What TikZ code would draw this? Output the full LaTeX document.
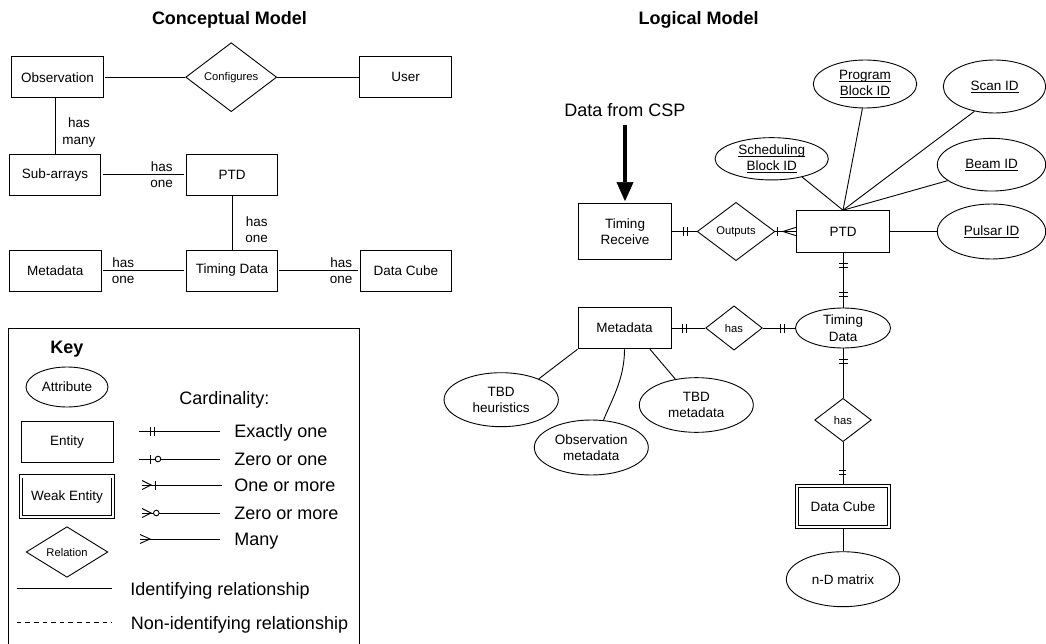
\documentclass[tikz,border=0pt]{standalone}
\usepackage{fontspec}
\setmainfont{Liberation Sans}
\usetikzlibrary{shapes.geometric,arrows.meta,decorations.markings,calc}

% font sizes (1pt = 1px of the final picture)
\newcommand{\erN}{\fontsize{13.5}{16.5}\selectfont}
\newcommand{\erS}{\fontsize{11.2}{13}\selectfont}
\newcommand{\erL}{\fontsize{18}{21}\selectfont}
\newcommand{\erT}{\fontsize{18}{21}\selectfont\bfseries}
% underlined key attribute
\newcommand{\keyattr}[1]{\leavevmode\setbox0=\hbox{#1}\rlap{\rule[-2.3pt]{\wd0}{0.8pt}}\box0}

\begin{document}
\begin{tikzpicture}[x=1pt,y=-1pt,line width=0.9pt,
  every node/.style={inner sep=0pt, align=center, font=\erN},
  entity/.style={draw, rectangle, minimum width=91.5pt, minimum height=41pt},
  weak/.style={draw, rectangle, double, double distance=2.4pt, minimum width=91.8pt, minimum height=40.9pt},
  relation/.style={draw, diamond, font=\erS},
  attr/.style={draw, ellipse},
  legend/.style={font=\erL, anchor=base west},
  heading/.style={font=\erT, anchor=base},
  tickmark/.style={postaction={decorate,decoration={markings,
      mark=at position #1 with {\draw (0pt,-4.5pt) -- (0pt,4.5pt);}}}},
  ringmark/.style={postaction={decorate,decoration={markings,
      mark=at position #1 with {\draw[fill=white] (0pt,0pt) circle[radius=2.8pt];}}}},
  crowstart/.style={postaction={decorate,decoration={markings,
      mark=at position #1 with {\draw (-#1,4.5pt) -- (0pt,0pt) -- (-#1,-4.5pt);}}}},
  crowend/.style={postaction={decorate,decoration={markings,
      mark=at position -#1 with {\draw (#1,4.3pt) -- (0pt,0pt) -- (#1,-4.3pt);}}}},
  mandone start/.style={tickmark=11pt, tickmark=15pt},
  mandone end/.style={tickmark=-11pt, tickmark=-15pt},
  mandmany end/.style={crowend=13.5pt, tickmark=-18.5pt},
  bigarrow/.style={line width=4.5pt, -{Triangle[length=19pt,width=17pt,line width=0.5pt]}, shorten >=2pt},
]
\useasboundingbox (0,0) rectangle (1046,644);

% ---------------- Conceptual model ----------------
\node[heading] (ctitle) at (229.5,25) {Conceptual Model};

\node[entity] (obs)   at (57.5,77.2)  {Observation};
\node[relation, minimum width=91pt, minimum height=69pt] (cfg) at (231.2,77.2) {Configures};
\node[entity] (user)  at (405.5,77.2) {User};
\node[entity] (sub)   at (55,174.7)   {Sub-arrays};
\node[entity] (cptd)  at (232,174.7)  {PTD};
\node[entity] (ctd)   at (232,270.5)  {Timing Data};
\node[entity] (cmeta) at (55.3,270.5) {Metadata};
\node[entity] (ccube) at (405.8,270.5) {Data Cube};

\draw[shorten <=1.5pt] (obs) -- (cfg);
\draw (cfg) -- (user);
\draw (obs.south -| sub.north) -- (sub.north)
  node[pos=0.62, anchor=west, xshift=7pt] {has\\many};
\draw[shorten <=2pt, shorten >=2pt] (sub) -- (cptd)
  node[at end, anchor=east, xshift=-12.4pt] {has\\one};
\draw (cptd) -- (ctd)
  node[pos=0.63, anchor=west, xshift=13pt] {has\\one};
\draw[shorten <=1.5pt, shorten >=2pt] (cmeta) -- (ctd)
  node[at start, anchor=west, xshift=10pt] {has\\one};
\draw[shorten <=1pt, shorten >=1.5pt] (ctd) -- (ccube)
  node[at end, anchor=east, xshift=-6.7pt] {has\\one};

% ---------------- Key ----------------
\draw (8,646) -- (8,328.3) -- (359.3,328.3) -- (359.3,646);
\node[heading] (keyttl) at (67,353) {Key};
\node[attr, minimum width=82pt, minimum height=40pt] (kattr) at (67,387) {Attribute};
\node[legend] (kcard) at (179,404) {Cardinality:};
\node[entity, minimum width=92pt] (kent) at (67,442.2) {Entity};
\node[weak] (kweak) at (67,496.8) {Weak Entity};
\node[relation, minimum width=81.7pt, minimum height=50.6pt] (krel) at (67,552) {Relation};

\coordinate (k1a) at (139,431);   \coordinate (k1b) at (220,431);
\coordinate (k2a) at (139,459);   \coordinate (k2b) at (220,459);
\coordinate (k3a) at (142,485);   \coordinate (k3b) at (221.5,485);
\coordinate (k4a) at (142,513);   \coordinate (k4b) at (220,513);
\coordinate (k5a) at (140,539);   \coordinate (k5b) at (220,539);
\draw[mandone start] (k1a) -- (k1b);
\draw[tickmark=11pt, ringmark=19pt] (k2a) -- (k2b);
\draw[crowstart=9pt, tickmark=13pt] (k3a) -- (k3b);
\draw[crowstart=9pt, ringmark=14.3pt] (k4a) -- (k4b);
\draw[crowstart=10pt] (k5a) -- (k5b);
\node[legend] (l1) at (234,437.8) {Exactly one};
\node[legend] (l2) at (234,465.3) {Zero or one};
\node[legend] (l3) at (234,491.8) {One or more};
\node[legend] (l4) at (234,519.6) {Zero or more};
\node[legend] (l5) at (234,545.5) {Many};

\coordinate (ida) at (16.7,588.7);  \coordinate (idb) at (112.3,588.7);
\coordinate (nida) at (16.7,622.3); \coordinate (nidb) at (112.3,622.3);
\draw (ida) -- (idb);
\draw[dash pattern=on 4.6pt off 4pt] (nida) -- (nidb);
\node[legend] (lid)  at (130,595.7) {Identifying relationship};
\node[legend] (lnid) at (130.5,629.5) {Non-identifying relationship};

% ---------------- Logical model ----------------
\node[heading] (ltitle) at (698.5,25) {Logical Model};
\node[font=\erL, anchor=base] (csp) at (625,116.7) {Data from CSP};

\node[entity, minimum width=93pt, minimum height=56pt] (trx) at (625,231.5) {Timing\\Receive};
\node[relation, minimum width=77.7pt, minimum height=58.3pt] (outp) at (736,231.5) {Outputs};
\node[entity, minimum width=92.3pt, minimum height=41.7pt] (ptd) at (843,231.5) {PTD};

\node[attr, minimum width=113.3pt, minimum height=42.3pt] (sbid) at (771.7,158.8) {\keyattr{Scheduling}\\\keyattr{Block ID}};
\node[attr, minimum width=103.4pt, minimum height=48pt] (pbid) at (865,84) {\keyattr{Program}\\\keyattr{Block ID}};
\node[attr, minimum width=102.4pt, minimum height=53pt] (scid) at (994.5,86.5) {\keyattr{Scan ID}};
\node[attr, minimum width=108.4pt, minimum height=52.7pt] (bmid) at (991.5,164.7) {\keyattr{Beam ID}};
\node[attr, minimum width=108.4pt, minimum height=55pt] (psid) at (991.5,231.5) {\keyattr{Pulsar ID}};

\node[attr, minimum width=95pt, minimum height=40pt] (tdat) at (843,328) {Timing\\Data};
\node[entity, minimum width=93pt, minimum height=41.6pt] (meta) at (624.5,328) {Metadata};
\node[relation, minimum width=56.7pt, minimum height=44.3pt] (hasm) at (734,328) {has};
\node[relation, minimum width=56.7pt, minimum height=43.3pt] (hasc) at (843,420) {has};
\node[weak, minimum width=91.5pt, minimum height=40.8pt] (cube) at (843,506.5) {Data Cube};
\node[attr, minimum width=113.3pt, minimum height=55pt] (ndm) at (843,579.2) {n-D matrix};

\node[attr, minimum width=114.3pt, minimum height=54pt] (heur) at (501.2,399.7) {TBD\\heuristics};
\node[attr, minimum width=114pt, minimum height=55pt] (obsm) at (591.3,447.5) {Observation\\metadata};
\node[attr, minimum width=114pt, minimum height=54.7pt] (tbdm) at (696.3,405) {TBD\\metadata};

% incoming data
\draw[bigarrow] ([yshift=-8.3pt]csp.base) -- (trx.north);

% relationships
\draw[mandone start] (trx) -- (outp);
\draw[mandmany end] (outp) -- (ptd);
\draw[mandone start, mandone end] (ptd) -- (tdat);
\draw[mandone start] (meta) -- (hasm);
\draw[mandone end] (hasm) -- (tdat);
\draw[mandone start] (tdat) -- (hasc);
\draw[mandone end, shorten >=2pt] (hasc) -- (cube);

% attributes
\draw (ptd.north) -- (sbid.-31);
\draw (ptd.north) -- (pbid.264);
\draw (ptd.north) -- (scid.231);
\draw (ptd.north) -- (bmid.200);
\draw (ptd.east) -- (psid.west);
\draw[shorten <=2pt] (cube) -- (ndm);
\draw (meta.south west) -- (heur.29.5);
\draw (meta.south) .. controls +(0,30) and +(8,-20) .. (obsm.66);
\draw ([xshift=25.5pt]meta.south) -- (tbdm.129);
\end{tikzpicture}
\end{document}
